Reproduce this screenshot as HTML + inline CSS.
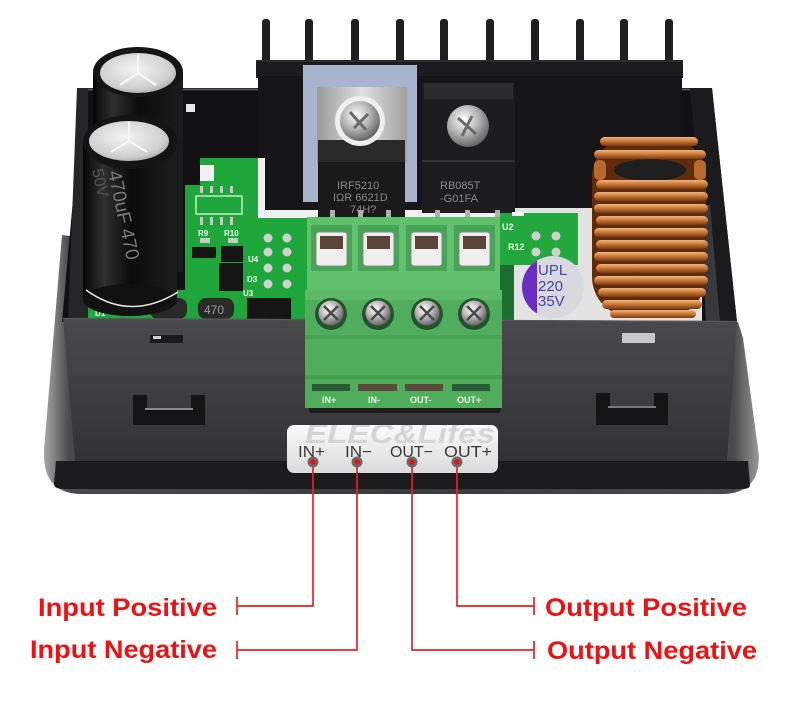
<!DOCTYPE html>
<html><head><meta charset="utf-8"><style>
html,body{margin:0;padding:0;background:#fff;}
svg{display:block;}
</style></head><body>
<svg width="803" height="718" viewBox="0 0 803 718" xmlns="http://www.w3.org/2000/svg" font-family="Liberation Sans, Arial, sans-serif">
<defs>
<linearGradient id="capG" x1="0" x2="1" y1="0" y2="0">
<stop offset="0" stop-color="#050505"/><stop offset="0.22" stop-color="#303030"/><stop offset="0.5" stop-color="#0c0c0c"/><stop offset="1" stop-color="#1c1c1c"/>
</linearGradient>
<radialGradient id="silv" cx="0.45" cy="0.4" r="0.7">
<stop offset="0" stop-color="#f4f4f4"/><stop offset="0.7" stop-color="#cfcfcf"/><stop offset="1" stop-color="#9a9a9a"/>
</radialGradient>
<radialGradient id="screw" cx="0.4" cy="0.35" r="0.7">
<stop offset="0" stop-color="#ffffff"/><stop offset="0.5" stop-color="#b5b5b5"/><stop offset="1" stop-color="#5a5a5a"/>
</radialGradient>
<linearGradient id="wallG" x1="0" x2="0" y1="0" y2="1">
<stop offset="0" stop-color="#4a4a4c"/><stop offset="1" stop-color="#333335"/>
</linearGradient>
<linearGradient id="plateG" x1="0" x2="0" y1="0" y2="1">
<stop offset="0" stop-color="#fbfbfb"/><stop offset="1" stop-color="#dadada"/>
</linearGradient>
<linearGradient id="bezG" x1="0" x2="1" y1="0" y2="0">
<stop offset="0" stop-color="#a8a8a8"/><stop offset="0.035" stop-color="#4a4a4a"/><stop offset="0.5" stop-color="#3a3a3a"/><stop offset="0.965" stop-color="#4a4a4a"/><stop offset="1" stop-color="#9a9a9a"/>
</linearGradient>
<linearGradient id="cuG" x1="0" x2="0" y1="0" y2="1">
<stop offset="0" stop-color="#f2b57c"/><stop offset="0.45" stop-color="#cc7a38"/><stop offset="1" stop-color="#7a3a10"/>
</linearGradient>
<linearGradient id="tabG" x1="0" x2="1" y1="0" y2="0">
<stop offset="0" stop-color="#9a9a9a"/><stop offset="0.5" stop-color="#e0e0e0"/><stop offset="1" stop-color="#a0a0a0"/>
</linearGradient>
<clipPath id="plateClip"><rect x="287" y="425" width="211" height="48" rx="7"/></clipPath>
<clipPath id="uplClip"><circle cx="553" cy="287" r="31"/></clipPath>
</defs>

<rect width="803" height="718" fill="#ffffff"/>

<!-- outer bezel -->
<path d="M62,235 L44,450 Q42,494 82,494 L722,494 Q759,494 759,456 L743,338 L738,322 Z" fill="url(#bezG)"/>

<!-- box back / interior -->
<polygon points="83,88 712,88 737,322 62,322" fill="#111113"/>
<line x1="83" y1="89.5" x2="262" y2="89.5" stroke="#505052" stroke-width="2"/>
<line x1="680" y1="89.5" x2="712" y2="89.5" stroke="#505052" stroke-width="2"/>
<polygon points="77,88 88,88 88,322 68,322" fill="#262628"/>
<polygon points="690,88 712,88 737,322 712,322" fill="#1b1b1d"/>
<polygon points="700,205 710,205 720,322 706,322" fill="#3a3a3c"/>

<!-- heatsink fins -->
<g fill="#1e1e20">
<rect x="262" y="19" width="8" height="50" rx="3"/>
<rect x="305" y="19" width="8" height="50" rx="3"/>
<rect x="351" y="19" width="8" height="50" rx="3"/>
<rect x="396" y="19" width="8" height="50" rx="3"/>
<rect x="440" y="19" width="8" height="50" rx="3"/>
<rect x="486" y="19" width="8" height="50" rx="3"/>
<rect x="531" y="19" width="8" height="50" rx="3"/>
<rect x="576" y="19" width="8" height="50" rx="3"/>
<rect x="620" y="19" width="8" height="50" rx="3"/>
<rect x="665" y="19" width="8" height="50" rx="3"/>
</g>
<rect x="256" y="60" width="427" height="18" fill="#1c1c1e"/>
<rect x="258" y="76" width="424" height="138" fill="#161618"/>
<line x1="256" y1="61" x2="683" y2="61" stroke="#3a3a3c" stroke-width="1"/>

<!-- right interior light area -->
<rect x="500" y="208" width="202" height="114" fill="#e2e2e2"/>
<rect x="262" y="210" width="245" height="8" fill="#f2f2f2"/>

<!-- transistor 1 -->
<rect x="303" y="65" width="114" height="137" fill="#a8b3cd"/>
<rect x="317" y="87" width="90" height="76" fill="url(#tabG)"/>
<rect x="318" y="160" width="87" height="57" fill="#1a1a1a"/>
<rect x="318" y="140" width="87" height="22" fill="#2a2a2a"/>
<circle cx="360" cy="121" r="25" fill="#efefef"/>
<circle cx="360" cy="121" r="20" fill="url(#screw)"/>
<path d="M350,112 L366,130 M368,114 L354,128" stroke="#6a6a6a" stroke-width="3"/>
<g fill="#8a8a8a" font-size="11">
<text x="337" y="189">IRF5210</text>
<text x="333" y="201">IΩR 6621D</text>
<text x="350" y="213">74H?</text>
</g>

<!-- transistor 2 -->
<rect x="422" y="83" width="93" height="130" fill="#1d1d1f"/>
<rect x="424" y="83" width="89" height="16" fill="#2c2c2e"/>
<rect x="422" y="160" width="93" height="2" fill="#333"/>
<circle cx="468" cy="126" r="21" fill="url(#screw)"/>
<path d="M458,118 L476,134 M472,116 L462,136" stroke="#6a6a6a" stroke-width="3"/>
<g fill="#8a8a8a" font-size="11">
<text x="440" y="189">RB085T</text>
<text x="440" y="202">-G01FA</text>
</g>
<g fill="#b0b0b0">
<rect x="330" y="210" width="5" height="8"/><rect x="358" y="210" width="5" height="8"/><rect x="386" y="210" width="5" height="8"/>
<rect x="435" y="210" width="5" height="8"/><rect x="465" y="210" width="5" height="8"/><rect x="495" y="210" width="5" height="8"/>
</g>

<!-- left PCB -->
<path d="M200,158 L258,158 L258,217 L312,217 L312,322 L88,322 L88,290 L185,290 L185,185 L200,185 Z" fill="#1fa63b"/>
<rect x="200" y="165" width="14" height="16" fill="#f0f0f0"/>
<rect x="258" y="158" width="7" height="60" fill="#f0f0f0"/>
<rect x="258" y="211" width="55" height="7" fill="#f0f0f0"/>
<rect x="186" y="104" width="9" height="8" fill="#e8e8e8"/>
<rect x="196" y="196" width="46" height="18" fill="none" stroke="#e8ffe8" stroke-width="1.2"/>
<g fill="#c8c8c8">
<rect x="200" y="186" width="3" height="7"/><rect x="210" y="186" width="3" height="7"/><rect x="220" y="186" width="3" height="7"/><rect x="230" y="186" width="3" height="7"/>
<rect x="200" y="217" width="3" height="8"/><rect x="210" y="217" width="3" height="8"/><rect x="220" y="217" width="3" height="8"/><rect x="230" y="217" width="3" height="8"/>
<rect x="200" y="238" width="10" height="5"/><rect x="228" y="238" width="10" height="5"/>
</g>
<g fill="#151515">
<rect x="192" y="247" width="24" height="11"/>
<rect x="221" y="246" width="22" height="16"/>
<rect x="219" y="263" width="24" height="28"/>
<rect x="247" y="298" width="44" height="22"/>
</g>
<g fill="#d0d0d0">
<circle cx="268" cy="238" r="4.5"/><circle cx="287" cy="238" r="4.5"/>
<circle cx="268" cy="252" r="4.5"/><circle cx="287" cy="252" r="4.5"/>
<circle cx="268" cy="268" r="4.5"/><circle cx="287" cy="268" r="4.5"/>
<circle cx="268" cy="284" r="4.5"/><circle cx="287" cy="284" r="4.5"/>
</g>
<g fill="#eaffea" font-size="8" font-weight="bold">
<text x="198" y="236">R9</text><text x="224" y="236">R10</text>
<text x="248" y="262">U4</text><text x="247" y="282">D3</text><text x="243" y="296">U3</text>
<text x="95" y="316">D1</text>
</g>
<rect x="198" y="298" width="36" height="21" rx="8" fill="#2a2a2a"/>
<text x="204" y="314" font-size="12" fill="#9a9a9a">470</text>
<rect x="150" y="298" width="37" height="21" rx="8" fill="#2a2a2a"/>

<!-- back capacitor -->
<rect x="93" y="72" width="90" height="200" fill="url(#capG)"/>
<ellipse cx="138" cy="72" rx="45" ry="25" fill="#151515"/>
<ellipse cx="138" cy="73" rx="38" ry="20" fill="url(#silv)"/>
<path d="M138,73 L138,55 M138,73 L120,85 M138,73 L156,85" stroke="#f8f8f8" stroke-width="2"/>

<!-- front capacitor -->
<rect x="83" y="142" width="94" height="158" fill="url(#capG)"/>
<ellipse cx="130" cy="300" rx="47" ry="16" fill="#111"/>
<path d="M86,290 Q130,322 178,292" stroke="#e8e8e8" stroke-width="1.5" fill="none"/>
<ellipse cx="130" cy="142" rx="47" ry="27" fill="#141414"/>
<ellipse cx="129" cy="141" rx="40" ry="20" fill="url(#silv)"/>
<path d="M129,141 L129,122 M129,141 L111,152 M129,141 L147,152" stroke="#f8f8f8" stroke-width="2"/>
<text transform="translate(108,172) rotate(78)" font-size="19" fill="#7a7a7a">470uF 470</text>
<text transform="translate(92,170) rotate(78)" font-size="16" fill="#555">50V</text>

<!-- right PCB -->
<rect x="500" y="213" width="78" height="52" fill="#22a83c"/>
<rect x="500" y="265" width="14" height="57" fill="#1c6e30"/>
<g fill="#cfcfcf">
<circle cx="536" cy="236" r="4.5"/><circle cx="556" cy="236" r="4.5"/>
<circle cx="536" cy="252" r="4.5"/><circle cx="556" cy="252" r="4.5"/>
</g>
<g fill="#eaffea" font-size="9" font-weight="bold">
<text x="502" y="230">U2</text><text x="508" y="250">R12</text>
</g>
<rect x="512" y="212" width="12" height="4" fill="#fff"/>

<!-- UPL capacitor -->
<circle cx="553" cy="287" r="31" fill="#d8d8de"/>
<rect x="520" y="250" width="17" height="80" fill="#6a2fc2" clip-path="url(#uplClip)"/>
<g fill="#4545a8" font-size="15">
<text x="538" y="275">UPL</text>
<text x="538" y="291">220</text>
<text x="538" y="306">35V</text>
</g>

<!-- inductor -->
<rect x="592" y="137" width="114" height="180" rx="40" fill="#5e2c0c"/>
<ellipse cx="650" cy="170" rx="36" ry="11" fill="#1f1f1f"/>
<g fill="url(#cuG)">
<rect x="600" y="137" width="98" height="9" rx="4.5"/>
<rect x="594" y="150" width="112" height="9" rx="4.5"/>
<rect x="596" y="180" width="112" height="9" rx="4.5"/>
<rect x="594" y="192" width="114" height="9" rx="4.5"/>
<rect x="594" y="204" width="114" height="9" rx="4.5"/>
<rect x="596" y="216" width="112" height="9" rx="4.5"/>
<rect x="594" y="228" width="114" height="9" rx="4.5"/>
<rect x="596" y="240" width="112" height="9" rx="4.5"/>
<rect x="594" y="252" width="114" height="9" rx="4.5"/>
<rect x="596" y="264" width="112" height="9" rx="4.5"/>
<rect x="594" y="276" width="114" height="9" rx="4.5"/>
<rect x="598" y="288" width="108" height="9" rx="4.5"/>
<rect x="602" y="300" width="100" height="9" rx="4.5"/>
<rect x="610" y="310" width="86" height="8" rx="4"/>
</g>
<rect x="594" y="160" width="12" height="20" rx="5" fill="#b8692e"/>
<rect x="694" y="160" width="12" height="20" rx="5" fill="#b8692e"/>

<!-- front wall -->
<polygon points="63,318 737,321 727,461 75,461" fill="url(#wallG)"/>
<line x1="63" y1="318.5" x2="737" y2="321.5" stroke="#5a5a5c" stroke-width="1.2"/>
<!-- bottom dark band -->
<path d="M56,461 L748,461 L750,485 Q750,489 742,489 L64,489 Q54,489 54,484 Z" fill="#1c1c1e"/>

<!-- slots and clips -->
<rect x="150" y="335" width="33" height="8" fill="#1a1a1a"/>
<rect x="153" y="336" width="8" height="3" fill="#cfcfcf"/>
<rect x="622" y="333" width="33" height="10" rx="1" fill="#c8c8c8"/>
<g fill="#141414">
<rect x="133" y="395" width="14" height="14"/><rect x="191" y="395" width="14" height="14"/>
<rect x="133" y="408" width="72" height="17"/>
<rect x="596" y="393" width="14" height="14"/><rect x="654" y="393" width="14" height="14"/>
<rect x="596" y="407" width="72" height="18"/>
</g>
<rect x="145" y="408" width="48" height="2" fill="#8a8a8a"/>
<rect x="608" y="406" width="48" height="2" fill="#7a7a7a"/>

<!-- terminal block upper -->
<rect x="307" y="217" width="193" height="85" fill="#60c06e"/>
<g>
<rect x="311" y="225" width="41" height="46" fill="#45a554"/>
<rect x="358" y="225" width="41" height="46" fill="#45a554"/>
<rect x="406" y="225" width="41" height="46" fill="#45a554"/>
<rect x="454" y="225" width="41" height="46" fill="#45a554"/>
</g>
<g fill="#eeeeee" stroke="#888" stroke-width="1">
<rect x="316" y="232" width="31" height="34" rx="3"/>
<rect x="363" y="232" width="31" height="34" rx="3"/>
<rect x="411" y="232" width="31" height="34" rx="3"/>
<rect x="459" y="232" width="31" height="34" rx="3"/>
</g>
<g fill="#5e4436">
<rect x="320" y="236" width="23" height="13"/>
<rect x="367" y="236" width="23" height="13"/>
<rect x="415" y="236" width="23" height="13"/>
<rect x="463" y="236" width="23" height="13"/>
</g>

<!-- terminal block lower -->
<rect x="309" y="404" width="192" height="9" rx="3" fill="#1e1e1e"/>
<rect x="305" y="290" width="197" height="118" fill="#4fad5c"/>
<rect x="305" y="290" width="197" height="10" fill="#5cba69"/>
<rect x="305" y="335" width="197" height="4" fill="#47a254"/>
<g fill="#24522c">
<circle cx="331" cy="314" r="16"/><circle cx="378" cy="314" r="16"/><circle cx="427" cy="314" r="16"/><circle cx="474" cy="314" r="16"/>
</g>
<g fill="url(#screw)">
<circle cx="331" cy="313" r="12.5"/><circle cx="378" cy="313" r="12.5"/><circle cx="427" cy="313" r="12.5"/><circle cx="474" cy="313" r="12.5"/>
</g>
<g stroke="#4a4a4a" stroke-width="2.5">
<path d="M324,306 L338,320 M338,306 L324,320"/>
<path d="M371,306 L385,320 M385,306 L371,320"/>
<path d="M420,306 L434,320 M434,306 L420,320"/>
<path d="M467,306 L481,320 M481,306 L467,320"/>
</g>
<rect x="305" y="375" width="197" height="4" fill="#45a052"/>
<g>
<rect x="312" y="384" width="38" height="7" fill="#2a5a35"/>
<rect x="358" y="384" width="39" height="7" fill="#5e4a3c"/>
<rect x="405" y="384" width="38" height="7" fill="#5e4a3c"/>
<rect x="452" y="384" width="38" height="7" fill="#2a5a35"/>
</g>
<g fill="#e8f5e8" font-size="9" font-weight="bold">
<text x="322" y="403">IN+</text><text x="368" y="403">IN-</text><text x="410" y="403">OUT-</text><text x="457" y="403">OUT+</text>
</g>

<!-- label plate -->
<rect x="287" y="425" width="211" height="48" rx="7" fill="url(#plateG)"/>
<g clip-path="url(#plateClip)">
<text x="305" y="443" font-size="28" font-style="italic" font-weight="bold" fill="#d4d4d4" textLength="190" lengthAdjust="spacingAndGlyphs">ELEC&amp;Lifes</text>
</g>
<g fill="#3a3a3a" font-size="16">
<text x="298" y="457" textLength="27" lengthAdjust="spacingAndGlyphs">IN+</text>
<text x="345" y="457" textLength="27" lengthAdjust="spacingAndGlyphs">IN−</text>
<text x="390" y="457" textLength="43" lengthAdjust="spacingAndGlyphs">OUT−</text>
<text x="444" y="457" textLength="48" lengthAdjust="spacingAndGlyphs">OUT+</text>
</g>

<!-- connectors -->
<g stroke="#e62222" stroke-width="1.7" fill="none">
<polyline points="313,462 313,606 237,606"/>
<line x1="237" y1="597" x2="237" y2="615"/>
<polyline points="357,462 357,650 237,650"/>
<line x1="237" y1="641" x2="237" y2="659"/>
<polyline points="412,462 412,650 534,650"/>
<line x1="534" y1="641" x2="534" y2="659"/>
<polyline points="457,462 457,606 534,606"/>
<line x1="534" y1="597" x2="534" y2="615"/>
</g>
<g>
<circle cx="313" cy="462" r="5.5" fill="#6a6a6a"/><circle cx="313" cy="462" r="2.8" fill="#e81010"/>
<circle cx="357" cy="462" r="5.5" fill="#6a6a6a"/><circle cx="357" cy="462" r="2.8" fill="#e81010"/>
<circle cx="412" cy="462" r="5.5" fill="#6a6a6a"/><circle cx="412" cy="462" r="2.8" fill="#e81010"/>
<circle cx="457" cy="462" r="5.5" fill="#6a6a6a"/><circle cx="457" cy="462" r="2.8" fill="#e81010"/>
</g>

<!-- labels -->
<g fill="#ee1111" font-size="25" font-weight="bold">
<text x="38" y="616" textLength="179" lengthAdjust="spacingAndGlyphs">Input Positive</text>
<text x="30" y="658" textLength="187" lengthAdjust="spacingAndGlyphs">Input Negative</text>
<text x="545" y="616" textLength="202" lengthAdjust="spacingAndGlyphs">Output Positive</text>
<text x="547" y="659" textLength="210" lengthAdjust="spacingAndGlyphs">Output Negative</text>
</g>
</svg>
</body></html>
